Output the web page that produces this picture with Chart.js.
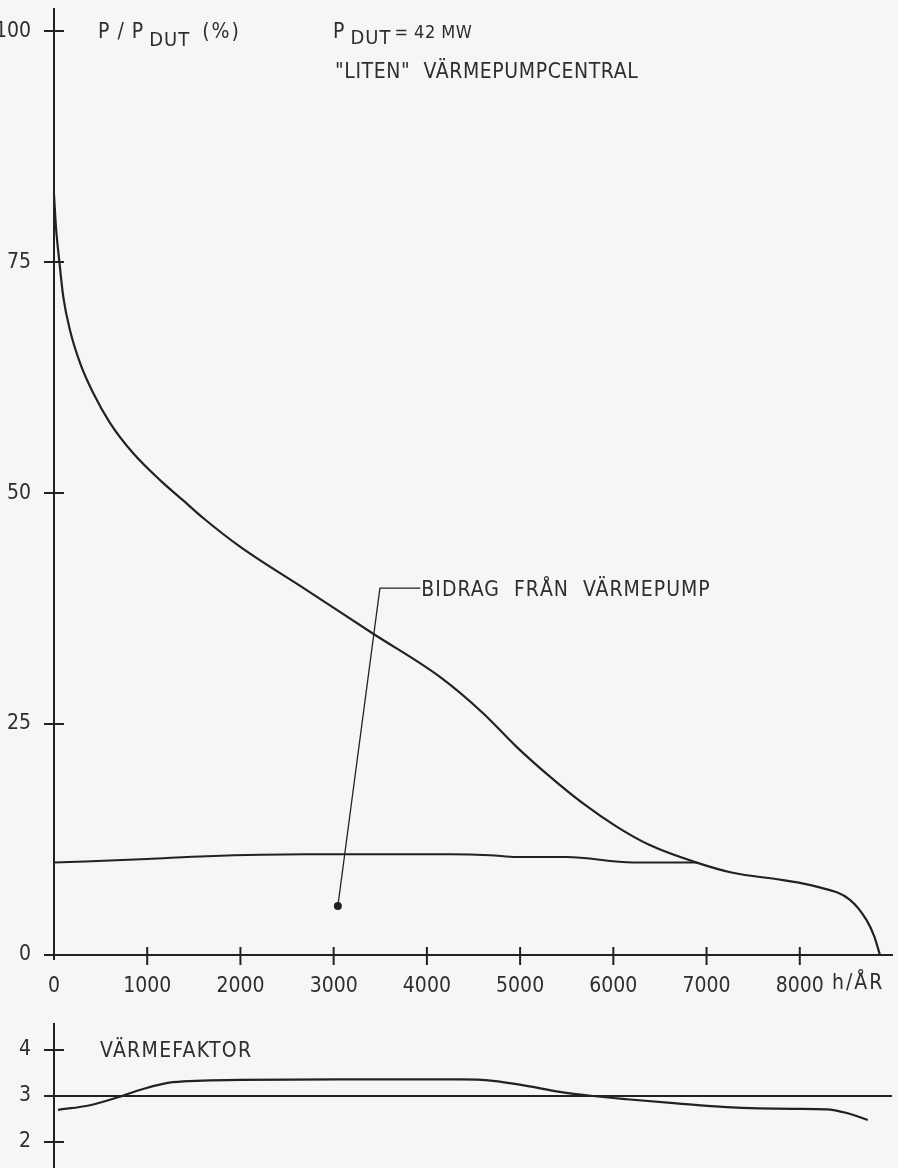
<!DOCTYPE html>
<html>
<head>
<meta charset="utf-8">
<script src="https://cdn.jsdelivr.net/npm/chart.js"></script>
<style>
  html, body { margin: 0; padding: 0; background: #f6f6f4; }
  #wrap { position: relative; width: 898px; height: 1168px; overflow: hidden; }
  canvas { position: absolute; left: 0; }
  #load { top: 0; }
  #cop { top: 1010px; }
</style>
</head>
<body>
<div id="wrap">
  <canvas id="load" width="898" height="1000"></canvas>
  <canvas id="cop" width="898" height="158"></canvas>
</div>
<script>
// varaktighetskurva
const loadHours = [0, 21, 57, 100, 172, 279, 422, 600, 850, 1137, 1386, 1600, 1995, 2710, 3420, 4140, 4600, 4965, 5320, 5675, 6035, 6390, 6895, 7280, 7820, 8180, 8535, 8715, 8800, 8860];
const loadPct = [82.3, 78.8, 75.1, 71.2, 67.6, 64.1, 60.8, 57.6, 54.3, 51.4, 49.2, 47.3, 44.2, 39.5, 34.8, 30.1, 26.2, 22.5, 19.3, 16.4, 13.9, 11.9, 10.0, 8.9, 8.1, 7.4, 6.0, 3.8, 2.0, 0];

// bidrag från värmepump (joins the load curve at ~6900 h)
const pumpHours = [0, 1000, 1640, 2710, 3420, 4250, 4675, 4965, 5500, 6210, 6895];
const pumpPct = [10.0, 10.4, 10.7, 10.9, 10.9, 10.9, 10.8, 10.6, 10.6, 10.0, 10.0];

// leader line for the label
const leaderHours = [3045, 3496, 3930];
const leaderPct = [5.3, 39.7, 39.7];

// värmefaktor
const copHours = [43, 386, 730, 920, 1276, 1995, 3070, 4354, 4710, 5070, 5425, 5780, 6145, 6680, 7215, 7925, 8290, 8505, 8730];
const copValues = [2.70, 2.80, 3.00, 3.13, 3.30, 3.35, 3.36, 3.36, 3.33, 3.22, 3.09, 3.00, 2.93, 2.84, 2.76, 2.72, 2.71, 2.63, 2.48];
const copRefHours = [0, 8990];
const copRefValues = [3, 3];

const hourTicks = [0, 1000, 2000, 3000, 4000, 5000, 6000, 7000, 8000];
const pctTicks = [0, 25, 50, 75, 100];
const copTicks = [2, 3, 4];

const INK = "#222";
const TXT = "#2e2e2e";
const FONT = '"Liberation Sans Narrow", "DejaVu Sans Condensed", "Arial Narrow", sans-serif';

const pts = (xs, ys) => xs.map((x, i) => ({ x: x, y: ys[i] }));

function put(ctx, text, x, y, size, spacing) {
    ctx.font = size + "px " + FONT;
    ctx.letterSpacing = (spacing || 0) + "px";
    ctx.fillText(text, x, y);
    return x + ctx.measureText(text).width;
}

// keep the plot area fixed, no extra room for edge labels
function fixY(s) {
    s.width = 54;
    s.paddingTop = 0;
    s.paddingBottom = 0;
}

// axis lines + ticks that cross the axis, like the original drawing
const axes = {
    id: "axes",
    afterDatasetsDraw(chart, args, opts) {
        const ctx = chart.ctx;
        const xs = chart.scales.x, ys = chart.scales.y;
        const a = chart.chartArea;
        ctx.save();
        ctx.strokeStyle = INK;
        ctx.lineWidth = 2;
        ctx.beginPath();
        ctx.moveTo(a.left, a.top);
        ctx.lineTo(a.left, opts.xAxis ? a.bottom + 5 : chart.height);
        ys.ticks.forEach(t => {
            const py = ys.getPixelForValue(t.value);
            ctx.moveTo(a.left - 10, py);
            ctx.lineTo(a.left + 10, py);
        });
        if (opts.xAxis) {
            ctx.moveTo(a.left, a.bottom);
            ctx.lineTo(a.right, a.bottom);
            xs.ticks.forEach(t => {
                if (t.value === 0) return;
                const px = xs.getPixelForValue(t.value);
                ctx.moveTo(px, a.bottom - 8);
                ctx.lineTo(px, a.bottom + 10);
            });
        }
        ctx.stroke();
        ctx.restore();
    }
};

const notesTop = {
    id: "notesTop",
    afterDraw(chart) {
        const ctx = chart.ctx;
        const xs = chart.scales.x, ys = chart.scales.y;
        ctx.save();
        ctx.fillStyle = TXT;
        ctx.textBaseline = "alphabetic";
        let x = put(ctx, "P / P", 98, 38, 21, 1);
        x = put(ctx, "DUT", x + 5, 46, 20, 1);
        put(ctx, "(%)", x + 12, 38, 21, 2);

        x = put(ctx, "P", 333, 38, 21, 0);
        x = put(ctx, "DUT", x + 6, 44, 20, 1);
        put(ctx, "= 42 MW", x + 3, 38, 18, 0.5);
        put(ctx, "\"LITEN\"  VÄRMEPUMPCENTRAL", 335, 78, 21, 0.6);

        const lx = xs.getPixelForValue(leaderHours[2]);
        const ly = ys.getPixelForValue(leaderPct[2]);
        put(ctx, "BIDRAG  FRÅN  VÄRMEPUMP", lx + 1, ly + 8, 21, 1);

        put(ctx, "h/ÅR", 832, 989, 21, 2);
        ctx.restore();
    }
};

const notesBottom = {
    id: "notesBottom",
    afterDraw(chart) {
        const ctx = chart.ctx;
        ctx.save();
        ctx.fillStyle = TXT;
        ctx.textBaseline = "alphabetic";
        put(ctx, "VÄRMEFAKTOR", 100, 47, 21, 1.3);
        ctx.restore();
    }
};

const curve = (data, width) => ({
    data: data,
    borderColor: INK,
    borderWidth: width,
    pointRadius: 0,
    cubicInterpolationMode: "monotone",
    fill: false,
    clip: false
});

const tickFont = { family: FONT, size: 21 };

new Chart(document.getElementById("load"), {
    type: "line",
    data: {
        datasets: [
            curve(pts(loadHours, loadPct), 2.2),
            curve(pts(pumpHours, pumpPct), 2),
            {
                data: pts(leaderHours, leaderPct),
                borderColor: INK,
                borderWidth: 1.3,
                tension: 0,
                pointRadius: [4, 0, 0],
                pointBackgroundColor: INK,
                pointBorderWidth: 0,
                fill: false,
                clip: false
            }
        ]
    },
    options: {
        responsive: false,
        animation: false,
        events: [],
        layout: { padding: { top: 8, right: 5, left: 0, bottom: 0 } },
        plugins: {
            legend: { display: false },
            tooltip: { enabled: false },
            axes: { xAxis: true }
        },
        scales: {
            x: {
                type: "linear",
                min: 0,
                max: 9000,
                grid: { display: false },
                border: { display: false },
                afterBuildTicks: s => { s.ticks = hourTicks.map(v => ({ value: v })); },
                afterFit: s => { s.height = 45; s.paddingLeft = 0; s.paddingRight = 0; },
                ticks: {
                    color: TXT,
                    padding: 11,
                    maxRotation: 0,
                    font: tickFont,
                    callback: v => String(v)
                }
            },
            y: {
                type: "linear",
                min: 0,
                max: 102.5,
                grid: { display: false },
                border: { display: false },
                afterBuildTicks: s => { s.ticks = pctTicks.map(v => ({ value: v })); },
                afterFit: fixY,
                ticks: {
                    color: TXT,
                    padding: 15,
                    font: tickFont,
                    callback: v => String(v)
                }
            }
        }
    },
    plugins: [axes, notesTop]
});

new Chart(document.getElementById("cop"), {
    type: "line",
    data: {
        datasets: [
            curve(pts(copRefHours, copRefValues), 2),
            curve(pts(copHours, copValues), 2.2)
        ]
    },
    options: {
        responsive: false,
        animation: false,
        events: [],
        layout: { padding: { top: 13, right: 5, left: 0, bottom: 0 } },
        plugins: {
            legend: { display: false },
            tooltip: { enabled: false },
            axes: { xAxis: false }
        },
        scales: {
            x: { type: "linear", min: 0, max: 9000, display: false },
            y: {
                type: "linear",
                min: 1.435,
                max: 4.587,
                grid: { display: false },
                border: { display: false },
                afterBuildTicks: s => { s.ticks = copTicks.map(v => ({ value: v })); },
                afterFit: fixY,
                ticks: {
                    color: TXT,
                    padding: 15,
                    font: tickFont,
                    callback: v => String(v)
                }
            }
        }
    },
    plugins: [axes, notesBottom]
});
</script>
</body>
</html>
